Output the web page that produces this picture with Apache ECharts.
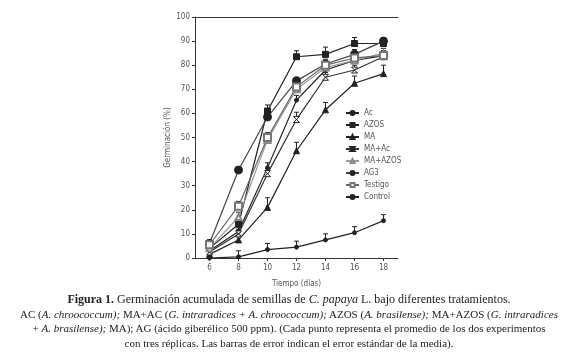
<!DOCTYPE html>
<html>
<head>
<meta charset="utf-8">
<script src="https://cdn.jsdelivr.net/npm/echarts@6/dist/echarts.min.js"></script>
<style>
html, body { margin: 0; padding: 0; background: #fff; }
#wrap { position: relative; width: 578px; height: 359px; }
#chart { position: absolute; left: 0; top: 0; width: 578px; height: 359px; }
#caption {
    position: absolute; left: 0; top: 292px; width: 578px;
    text-align: center; font-family: "Liberation Serif", "DejaVu Serif", serif;
    font-size: 11px; line-height: 14.5px; color: #222;
}
#caption .first { font-size: 12px; }
</style>
</head>
<body>
<div id="wrap">
    <div id="chart"></div>
    <div id="caption">
        <span class="first"><b>Figura 1.</b> Germinación acumulada de semillas de <i>C. papaya</i> L. bajo diferentes tratamientos.</span><br>
        AC (<i>A. chroococcum);</i> MA+AC (<i>G. intraradices + A. chroococcum);</i> AZOS (<i>A. brasilense);</i> MA+AZOS (<i>G. intraradices</i><br>
        + <i>A. brasilense);</i> MA); AG (ácido giberélico 500 ppm). (Cada punto representa el promedio de los dos experimentos<br>
        con tres réplicas. Las barras de error indican el error estándar de la media).
    </div>
</div>
<script>
// datos
const days = [6, 8, 10, 12, 14, 16, 18]
const yTicks = [0, 10, 20, 30, 40, 50, 60, 70, 80, 90, 100]

const acVals = [3, 11, 37.5, 65.5, 78, 82, 84]
const acErr = [1.5, 2, 2, 2, 2, 2, 2]
const azosVals = [4, 14, 61, 83.5, 84.5, 89, 89]
const azosErr = [2, 2, 2.5, 2.5, 3, 2.5, 1.5]
const maVals = [1.5, 7.5, 21, 44.5, 61.5, 72.5, 76.5]
const maErr = [1.5, 2, 4, 3.5, 3, 3, 3.5]
const maAcVals = [2.5, 10, 35, 57.5, 75, 78, 83.5]
const maAcErr = [1.5, 2, 2, 3, 2, 2, 2]
const maAzosVals = [4, 17, 49, 70, 79, 82, 85]
const maAzosErr = [1.5, 2, 2, 2, 2, 2, 2]
const ag3Vals = [6, 36.5, 58.5, 73.5, 80.5, 84.5, 90]
const ag3Err = [1.5, 1, 2, 1.5, 2, 2, 1.5]
const testigoVals = [5.5, 21.5, 50, 71, 80, 83, 84]
const testigoErr = [2, 2, 2, 2, 2, 2, 2]
const controlVals = [0, 0.5, 3.5, 4.5, 7.5, 10.5, 15.5]
const controlErr = [0, 2.5, 2.5, 2.5, 2.5, 2.5, 2.5]

const hourglass = 'path://M0,0L10,0L0,10L10,10Z'

const treatments = [
    { name: 'Ac', vals: acVals, errs: acErr, symbol: 'circle', size: 4, color: '#222', line: '#222' },
    { name: 'AZOS', vals: azosVals, errs: azosErr, symbol: 'rect', size: 6, color: '#222', line: '#222' },
    { name: 'MA', vals: maVals, errs: maErr, symbol: 'triangle', size: 6, color: '#222', line: '#222' },
    { name: 'MA+Ac', vals: maAcVals, errs: maAcErr, symbol: hourglass, size: 6, color: '#fff', border: '#222', line: '#333' },
    { name: 'MA+AZOS', vals: maAzosVals, errs: maAzosErr, symbol: 'emptyTriangle', size: 6, color: '#888', line: '#999' },
    { name: 'AG3', vals: ag3Vals, errs: ag3Err, symbol: 'circle', size: 8, color: '#222', line: '#444' },
    { name: 'Testigo', vals: testigoVals, errs: testigoErr, symbol: 'emptyRect', size: 7, color: '#777', line: '#666' },
    { name: 'Control', vals: controlVals, errs: controlErr, symbol: 'circle', size: 4, color: '#222', line: '#222' }
]

function errorBars (t) {
    return {
        type: 'custom',
        name: t.name + '-err',
        silent: true,
        z: 1,
        encode: { x: 0, y: [1, 2] },
        data: days.map((d, i) => [d, t.vals[i], t.vals[i] + t.errs[i]]),
        renderItem: function (params, api) {
            const lo = api.coord([api.value(0), api.value(1)])
            const hi = api.coord([api.value(0), api.value(2)])
            const st = { stroke: '#222', lineWidth: 1 }
            return {
                type: 'group',
                children: [
                    { type: 'line', shape: { x1: lo[0], y1: lo[1], x2: hi[0], y2: hi[1] }, style: st },
                    { type: 'line', shape: { x1: hi[0] - 2.5, y1: hi[1], x2: hi[0] + 2.5, y2: hi[1] }, style: st }
                ]
            }
        }
    }
}

const lineSeries = treatments.map(t => ({
    type: 'line',
    name: t.name,
    data: days.map((d, i) => [d, t.vals[i]]),
    symbol: t.symbol,
    symbolSize: t.size,
    z: 3,
    lineStyle: { color: t.line, width: 1.2 },
    itemStyle: { color: t.color, borderColor: t.border || t.color, borderWidth: 1 }
}))

const myChart = echarts.init(document.getElementById('chart'))
const axisFont = { fontFamily: 'Liberation Sans Narrow, DejaVu Sans Condensed, sans-serif', fontSize: 8, color: '#555' }

myChart.setOption({
    animation: false,
    grid: { left: 195, right: 180, top: 17, bottom: 101 },
    legend: {
        orient: 'vertical',
        left: 345,
        top: 109,
        padding: 0,
        itemWidth: 13,
        itemHeight: 5,
        itemGap: 4,
        data: treatments.map(t => t.name),
        textStyle: axisFont
    },
    xAxis: [
        {
            type: 'value',
            min: 5,
            max: 19,
            name: 'Tiempo (días)',
            nameLocation: 'middle',
            nameGap: 22,
            nameTextStyle: axisFont,
            splitLine: { show: false },
            axisLine: { lineStyle: { color: '#333' } },
            axisTick: { customValues: days, length: 3, lineStyle: { color: '#333' } },
            axisLabel: Object.assign({ customValues: days, margin: 6 }, axisFont)
        },
        {
            type: 'value',
            position: 'top',
            min: 5,
            max: 19,
            axisLine: { show: true, lineStyle: { color: '#333' } },
            axisTick: { show: false },
            axisLabel: { show: false },
            splitLine: { show: false }
        }
    ],
    yAxis: {
        type: 'value',
        min: yTicks[0],
        max: yTicks[yTicks.length - 1],
        interval: 10,
        name: 'Germinación (%)',
        nameLocation: 'middle',
        nameGap: 22,
        nameTextStyle: axisFont,
        splitLine: { show: false },
        axisLine: { show: true, lineStyle: { color: '#333' } },
        axisTick: { show: true, length: 3, lineStyle: { color: '#333' } },
        axisLabel: Object.assign({ margin: 5 }, axisFont)
    },
    series: treatments.map(errorBars).concat(lineSeries)
})
</script>
</body>
</html>
